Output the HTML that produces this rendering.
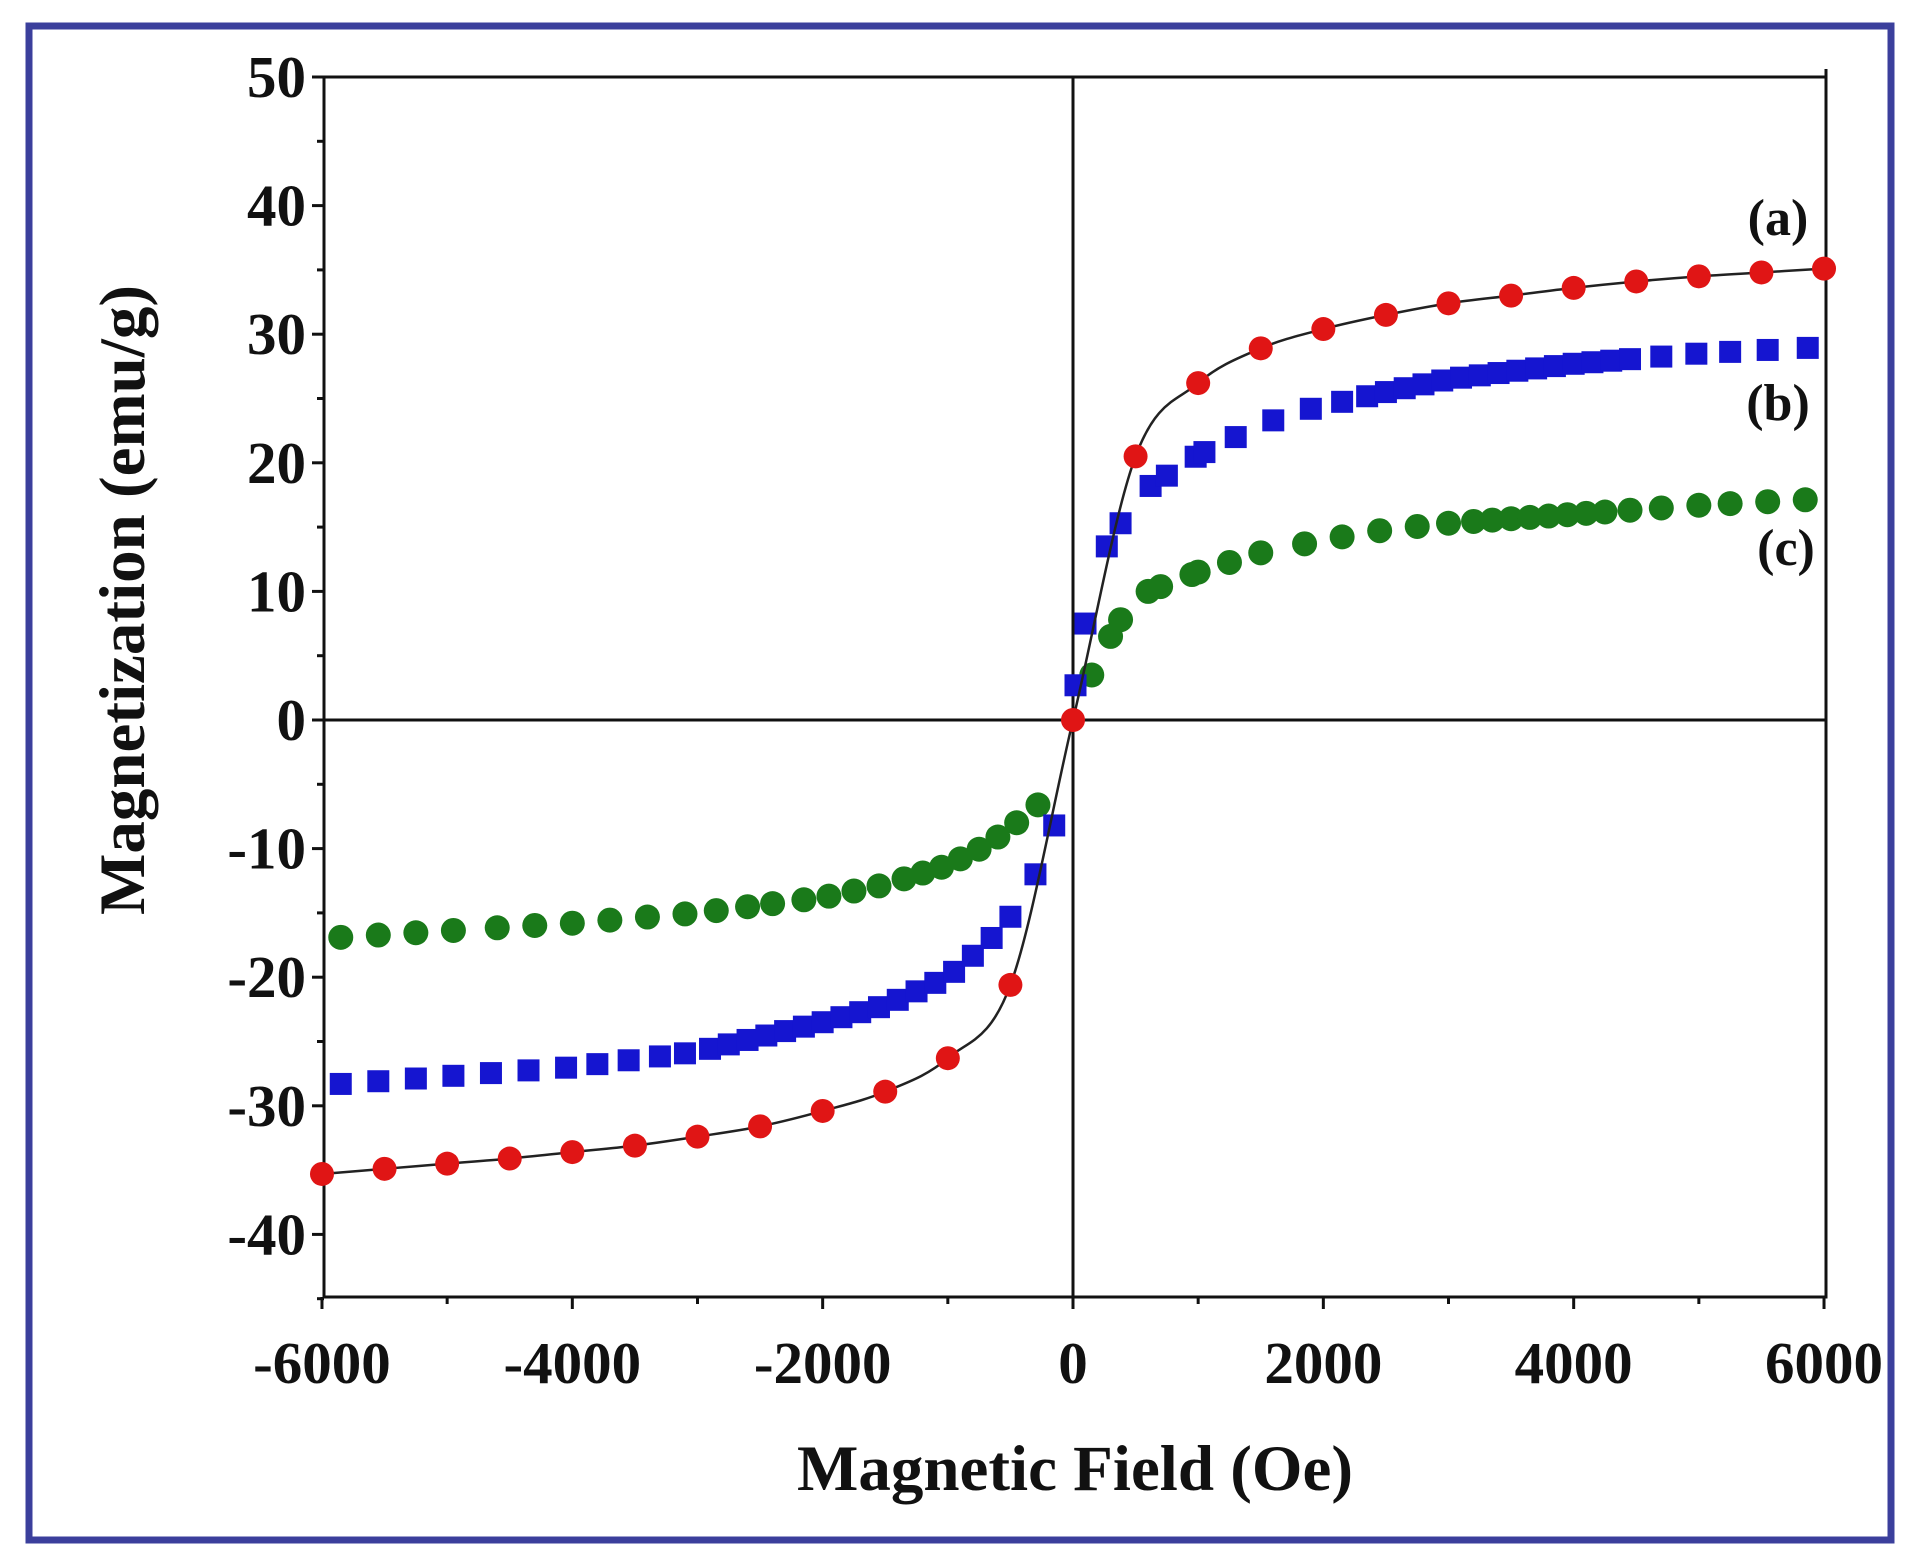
<!DOCTYPE html>
<html><head><meta charset="utf-8"><style>
html,body{margin:0;padding:0;background:#fff;}
svg{display:block;}
text{font-family:"Liberation Serif",serif;font-weight:bold;fill:#111;}
</style></head><body>
<svg id="s" width="1916" height="1563" viewBox="0 0 1916 1563" xmlns="http://www.w3.org/2000/svg">
<rect x="0" y="0" width="1916" height="1563" fill="#fff"/>
<rect x="29" y="26" width="1862" height="1514" fill="none" stroke="#3b3f9c" stroke-width="7"/>
<g id="g"></g>
</svg>
<script>
const L=324,R=1826,T=77,B=1297,Y0=720;
const X=h=>1073+h*0.12517, Y=m=>Y0-m*12.86;
const g=document.getElementById('g');let o='';
function interp(t,h){if(h<=t[0][0])return t[0][1];for(let i=1;i<t.length;i++){if(h<=t[i][0]){const a=t[i-1],b=t[i];return a[1]+(b[1]-a[1])*(h-a[0])/(b[0]-a[0]);}}return t[t.length-1][1];}
o+=`<rect x="${L}" y="${T}" width="${R-L}" height="${B-T}" fill="none" stroke="#111" stroke-width="3"/>`;
o+=`<line x1="${L}" y1="${Y0}" x2="${R}" y2="${Y0}" stroke="#111" stroke-width="3"/>`;
o+=`<line x1="${X(0)}" y1="${T}" x2="${X(0)}" y2="${B}" stroke="#111" stroke-width="3"/>`;
for(let m=-45;m<=50;m+=5){const y=Y(m),maj=m%10==0;o+=`<line x1="${L}" y1="${y}" x2="${L-(maj?12:7)}" y2="${y}" stroke="#111" stroke-width="3"/>`;if(maj&&m>-45)o+=`<text x="306" y="${y+20}" font-size="59" text-anchor="end">${m}</text>`;}
for(let h=-6000;h<=6000;h+=1000){const x=X(h),maj=h%2000==0;o+=`<line x1="${x}" y1="${B}" x2="${x}" y2="${B+(maj?12:7)}" stroke="#111" stroke-width="3"/>`;if(maj)o+=`<text x="${x}" y="1383" font-size="59" text-anchor="middle">${h}</text>`;}
o+=`<line x1="${R}" y1="${T}" x2="${R}" y2="${T-8}" stroke="#111" stroke-width="3"/>`;
o+=`<text x="1075" y="1490" font-size="65" text-anchor="middle">Magnetic Field (Oe)</text>`;
o+=`<text transform="translate(144,600) rotate(-90)" font-size="65" text-anchor="middle">Magnetization (emu/g)</text>`;
o+=`<text x="1778" y="235" font-size="52" text-anchor="middle">(a)</text>`;
o+=`<text x="1778" y="420" font-size="52" text-anchor="middle">(b)</text>`;
o+=`<text x="1786" y="565" font-size="52" text-anchor="middle">(c)</text>`;
const gt=[[-6000,-17],[-5850,-16.9],[-4000,-15.8],[-3000,-15],[-2000,-13.8],[-1500,-12.8],[-1000,-11.3],[-700,-9.8],[-500,-8.4],[-280,-6.6],[0,0],[150,3.5],[350,7.5],[600,10],[1000,11.5],[1500,13],[2000,14],[2500,14.8],[3000,15.3],[4000,16],[5000,16.7],[6000,17.2]];
let gh=[-5850,-5550,-5250,-4950,-4600,-4300,-4000,-3700,-3400,-3100,-2850,-2600,-2400,-2150,-1950,-1750,-1550,-1350,-1200,-1050,-900,-750,-600,-450,-280,150,300,380,600,700,950,1000,1250,1500,1850,2150,2450,2750,3000,3200,3350,3500,3650,3800,3950,4100,4250,4450,4700,5000,5250,5550,5850];
gh.forEach(h=>{o+=`<circle cx="${X(h)}" cy="${Y(interp(gt,h))}" r="12.5" fill="#1a7a1a"/>`;});
const bt=[[-6000,-28.4],[-5850,-28.3],[-4000,-27],[-3000,-25.8],[-2000,-23.5],[-1500,-22.2],[-1000,-20],[-700,-17.5],[-500,-15.3],[-300,-12],[-150,-8.2],[0,1.5],[100,7.5],[270,13.5],[380,15.3],[620,18.2],[750,19],[1000,20.6],[1300,22],[1600,23.3],[1900,24.2],[2500,25.5],[3000,26.5],[4000,27.7],[5000,28.5],[6000,29]];
let bh=[-5850,-5550,-5250,-4950,-4650,-4350,-4050,-3800,-3550,-3300,-3100,-2900,-2750,-2600,-2450,-2300,-2150,-2000,-1850,-1700,-1550,-1400,-1250,-1100,-950,-800,-650,-500,-300,-150,20,100,270,380,620,750,980,1050,1300,1600,1900,2150,2350,2500,2650,2800,2950,3100,3250,3400,3550,3700,3850,4000,4150,4300,4450,4700,4980,5250,5550,5870];
bh.forEach(h=>{const x=X(h),y=Y(interp(bt,h));o+=`<rect x="${x-11}" y="${y-11}" width="22" height="22" fill="#1515d0"/>`;});
const rv=[-35.3,-34.9,-34.5,-34.1,-33.6,-33.1,-32.4,-31.6,-30.4,-28.9,-26.3,-20.6,0,20.5,26.2,28.9,30.4,31.5,32.4,33.0,33.6,34.1,34.5,34.8,35.1];
let rp=rv.map((m,i)=>[X(-6000+i*500),Y(m)]);
let d=`M${rp[0][0]},${rp[0][1]}`;
for(let i=0;i<rp.length-1;i++){const p0=rp[Math.max(0,i-1)],p1=rp[i],p2=rp[i+1],p3=rp[Math.min(rp.length-1,i+2)];
const c1=[p1[0]+(p2[0]-p0[0])/6,p1[1]+(p2[1]-p0[1])/6],c2=[p2[0]-(p3[0]-p1[0])/6,p2[1]-(p3[1]-p1[1])/6];
d+=` C${c1[0]},${c1[1]} ${c2[0]},${c2[1]} ${p2[0]},${p2[1]}`;}
o+=`<path d="${d}" fill="none" stroke="#222" stroke-width="2.5"/>`;
rp.forEach(p=>{o+=`<circle cx="${p[0]}" cy="${p[1]}" r="12" fill="#e01515"/>`;});
g.innerHTML=o;
</script>
</body></html>
